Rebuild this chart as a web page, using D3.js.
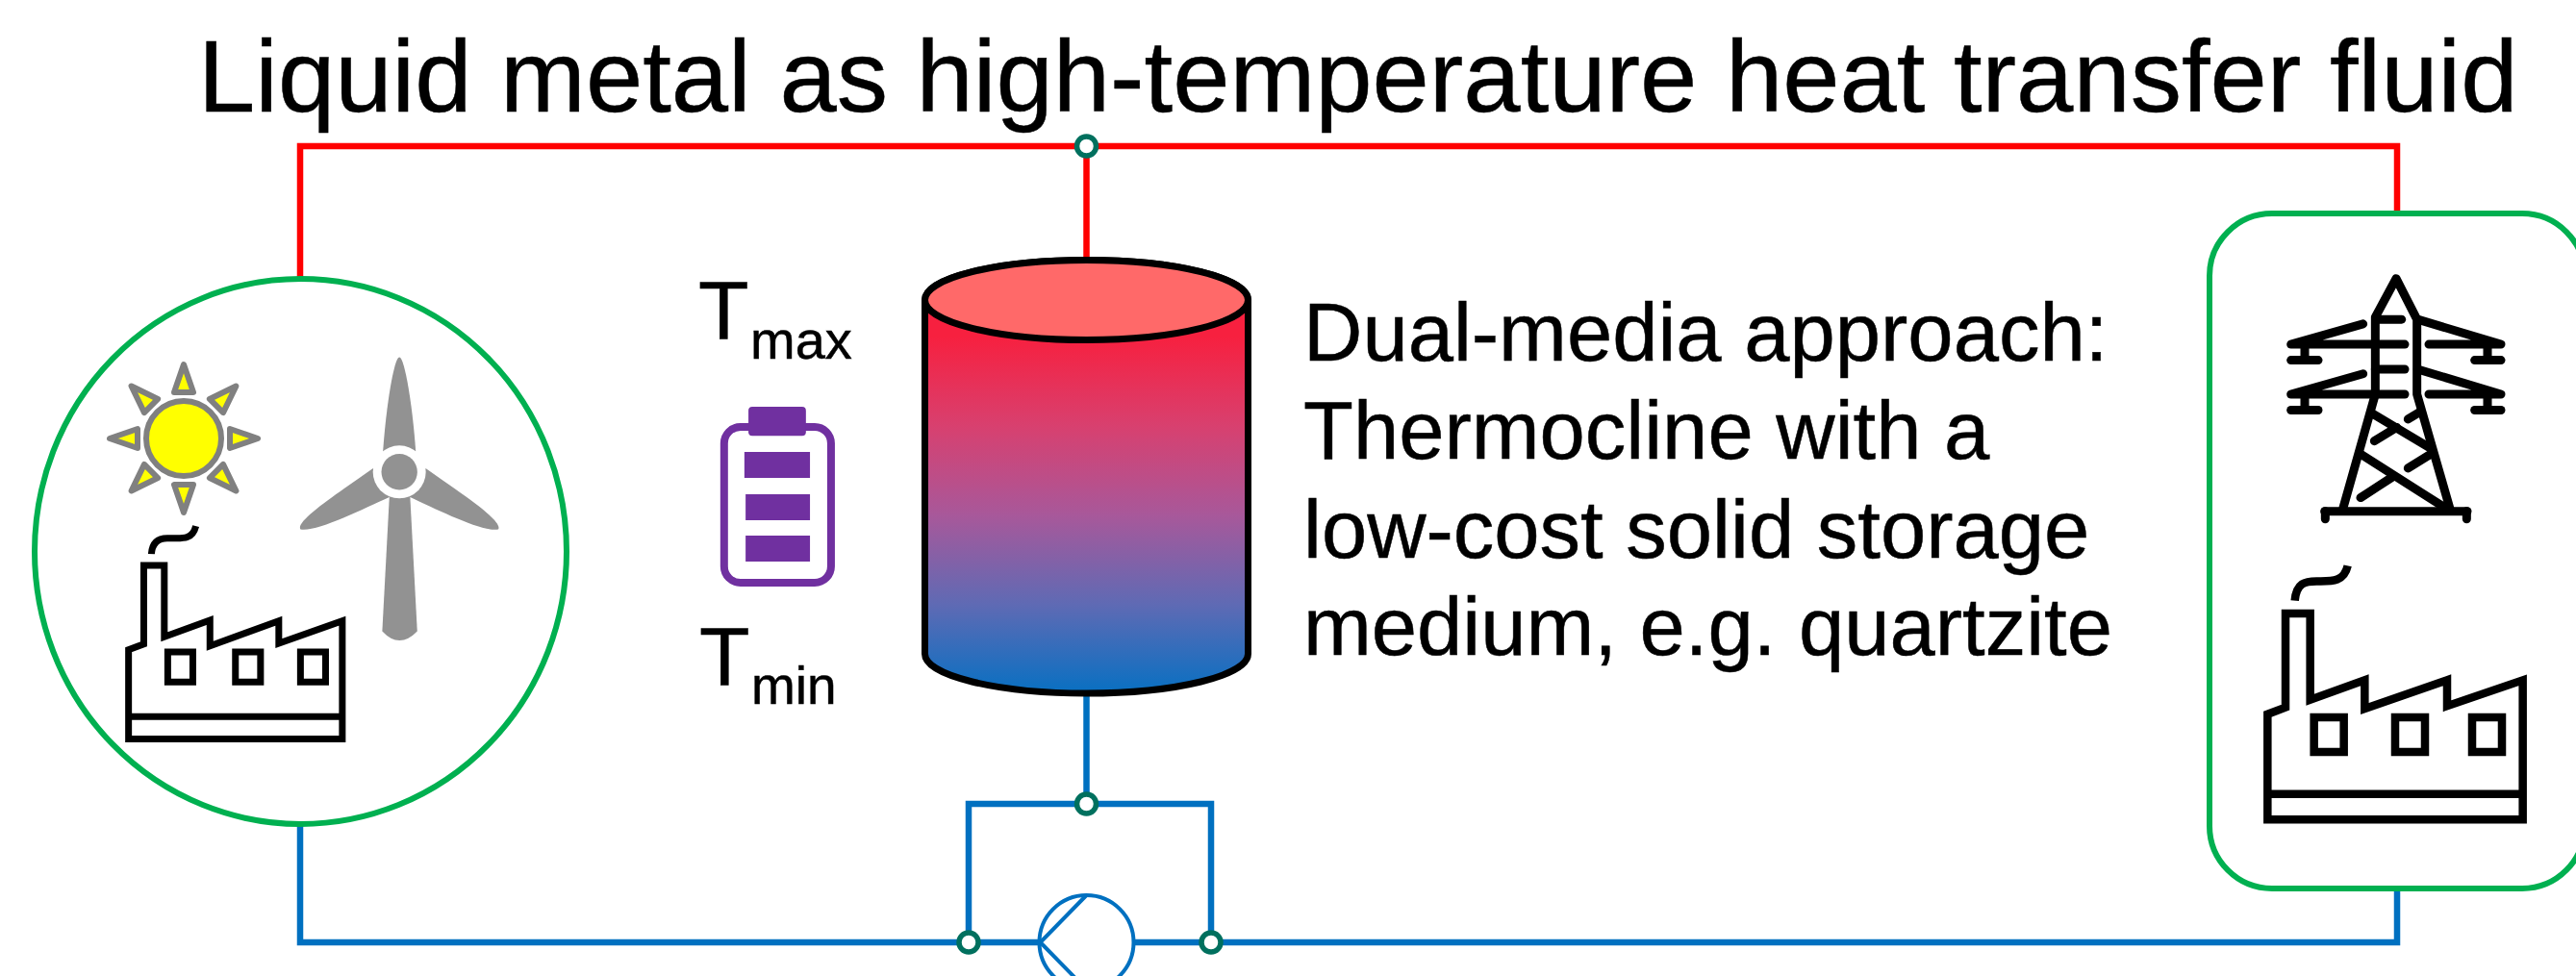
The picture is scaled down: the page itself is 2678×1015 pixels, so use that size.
<!DOCTYPE html>
<html><head><meta charset="utf-8">
<script src="https://cdn.jsdelivr.net/npm/d3@7"></script>
<style>html,body{margin:0;padding:0;background:#fff;overflow:hidden}svg{display:block}text{font-family:"Liberation Sans",Arial,sans-serif;fill:#000;stroke:#000;stroke-width:0.5}</style>
</head><body><svg id="c" width="2678" height="1015"></svg>
<script>
const titleText = "Liquid metal as high-temperature heat transfer fluid";
const noteLines = ["Dual-media approach:", "Thermocline with a", "low-cost solid storage", "medium, e.g. quartzite"];
const tempLabels = [["T","max"],["T","min"]];
const gradientStops = [[0,"#f7203f"],[0.25,"#d8406f"],[0.5,"#a8589a"],[0.75,"#5f6ab4"],[1,"#0870c2"]];

const RED="#ff0000", BLUE="#0070c0", GREEN="#00b050", NODE="#00705e", PURPLE="#7030a0", GREY="#929292", SUNG="#808080", YELLOW="#ffff00";
const svg=d3.select("#c");
const defs=svg.append("defs");
const lg=defs.append("linearGradient").attr("id","tank").attr("gradientUnits","userSpaceOnUse").attr("x1",0).attr("x2",0).attr("y1",350).attr("y2",721);
gradientStops.forEach(s=>lg.append("stop").attr("offset",s[0]).attr("stop-color",s[1]));

function poly(g,pts,stroke,w,opt={}){
  return g.append("path").attr("d",d3.line()(pts)+(opt.close?"Z":"")).attr("fill",opt.fill||"none")
    .attr("stroke",stroke).attr("stroke-width",w).attr("stroke-linecap",opt.cap||"butt").attr("stroke-linejoin",opt.join||"miter");
}

// pipes
const pipes=svg.append("g");
poly(pipes,[[312,290],[312,152],[2492,152],[2492,222]],RED,6.5);
poly(pipes,[[1129.5,152],[1129.5,270]],RED,6.5);
poly(pipes,[[312,857],[312,980],[1081,980]],BLUE,6.5);
poly(pipes,[[1178,980],[2492,980],[2492,924]],BLUE,6.5);
poly(pipes,[[1007,980],[1007,836],[1259,836],[1259,980]],BLUE,6.5);
poly(pipes,[[1129.5,722],[1129.5,836]],BLUE,6.5);
// pump
const pump=svg.append("g");
pump.append("circle").attr("cx",1129.5).attr("cy",980).attr("r",49).attr("fill","#fff").attr("stroke",BLUE).attr("stroke-width",4);
poly(pump,[[1129.5,931],[1081.5,980],[1129.5,1029]],BLUE,4);
// nodes
[[1129.5,152],[1129.5,836],[1007,980],[1259,980]].forEach(p=>
  svg.append("circle").attr("cx",p[0]).attr("cy",p[1]).attr("r",10).attr("fill","#fff").attr("stroke",NODE).attr("stroke-width",5.5));

// left circle
svg.append("ellipse").attr("cx",312.5).attr("cy",573.5).attr("rx",276.5).attr("ry",283.5).attr("fill","#fff").attr("stroke",GREEN).attr("stroke-width",6);
// right box
svg.append("rect").attr("x",2297).attr("y",222).attr("width",390).attr("height",702).attr("rx",65).attr("ry",65).attr("fill","#fff").attr("stroke",GREEN).attr("stroke-width",6);

// sun
const sun=svg.append("g").attr("transform","translate(191,456)");
sun.append("circle").attr("r",39).attr("fill",YELLOW).attr("stroke",SUNG).attr("stroke-width",6);
d3.range(8).forEach(i=>{
  poly(sun,[[0,-77],[10,-48],[-10,-48]],SUNG,6,{close:true,fill:YELLOW,join:"round"}).attr("transform",`rotate(${i*45})`);
});

// zoom-crop coordinate helpers
const lx=d3.scaleLinear().domain([0,1568]).range([0,620]), ly=d3.scaleLinear().domain([0,1568]).range([270,870]);
const rx=d3.scaleLinear().domain([0,1194]).range([2280,2678]), ry=d3.scaleLinear().domain([0,1568]).range([200,940]);
const cx=d3.scaleLinear().domain([0,1568]).range([680,1340]), cy=d3.scaleLinear().domain([0,1500]).range([250,750]);
const L=(x,y)=>[lx(x),ly(y)], R=(x,y)=>[rx(x),ry(y)];
const P=(p)=>p.join(",");

// turbine
const tb=svg.append("g").attr("fill",GREY);
function curveBlade(a,c1,c2,t,c3,c4,b){
  tb.append("path").attr("d",`M${P(L(...a))}C${P(L(...c1))} ${P(L(...c2))} ${P(L(...t))}C${P(L(...c3))} ${P(L(...c4))} ${P(L(...b))}L${P(L(1050,577))}Z`);
}
curveBlade([1007,520],[1015,400],[1036,265],[1050,265],[1064,265],[1085,400],[1093,520]);
curveBlade([980,568],[895,630],[775,710],[790,733],[830,742],[950,680],[1025,645]);
curveBlade([1120,568],[1205,630],[1325,710],[1310,733],[1270,742],[1150,680],[1077,645]);
tb.append("path").attr("d",`M${P(L(1025,620))}L${P(L(1005,1010))}Q${P(L(1050,1060))} ${P(L(1097,1010))}L${P(L(1077,620))}Z`);
svg.append("ellipse").attr("cx",lx(1050)).attr("cy",ly(577)).attr("rx",27.5).attr("ry",27.5).attr("fill","#fff");
svg.append("circle").attr("cx",lx(1050)).attr("cy",ly(577)).attr("r",18.7).attr("fill",GREY);

// left factory
const fl=svg.append("g");
poly(fl,[[338,1303],[338,1060],[378,1045],[378,831],[432,831],[432,1025],[552,980],[552,1050],[733,982],[733,1043],[900,982],[900,1303]].map(p=>L(...p)),"#000",7,{close:true});
poly(fl,[[338,1242],[900,1242]].map(p=>L(...p)),"#000",7);
[441,619,790].forEach(x=>poly(fl,[[x,1066],[x+66,1066],[x+66,1148],[x,1148]].map(p=>L(...p)),"#000",7,{close:true}));
fl.append("path").attr("d",`M${P(L(398,800))}C${P(L(400,770))} ${P(L(415,757))} ${P(L(440,757))}C${P(L(475,757))} ${P(L(505,765))} ${P(L(515,724))}`).attr("fill","none").attr("stroke","#000").attr("stroke-width",7);

// right factory
const fr=svg.append("g");
poly(fr,[[232,1382],[232,1150],[288,1135],[288,928],[365,928],[365,1118],[535,1075],[535,1138],[792,1075],[792,1132],[1028,1075],[1028,1382]].map(p=>R(...p)),"#000",8.5,{close:true});
poly(fr,[[232,1326],[1028,1326]].map(p=>R(...p)),"#000",8.5);
[377,630,870].forEach(x=>poly(fr,[[x,1157],[x+93,1157],[x+93,1233],[x,1233]].map(p=>R(...p)),"#000",8.5,{close:true}));
fr.append("path").attr("d",`M${P(R(317,900))}C${P(R(322,860))} ${P(R(350,857))} ${P(R(385,857))}C${P(R(430,857))} ${P(R(470,860))} ${P(R(482,823))}`).attr("fill","none").attr("stroke","#000").attr("stroke-width",8.5);

// pylon
const py=svg.append("g");
const segs=[
 [[468,695],[568,445],[568,275],[633,190],[698,280],[698,445],[800,695]],
 [[410,703],[855,703]],[[412,703],[412,720]],[[853,703],[853,720]],
 [[580,280],[650,280]],[[568,335],[660,335]],[[568,390],[660,390]],[[568,445],[660,445]],
 [[530,290],[305,335],[568,335]],[[305,370],[390,370]],[[348,335],[348,370]],
 [[530,400],[305,445],[568,445]],[[305,480],[390,480]],[[348,445],[348,480]],
 [[735,335],[960,335],[700,280]],[[878,370],[960,370]],[[918,335],[918,370]],
 [[735,445],[960,445],[700,390]],[[878,480],[960,480]],[[918,445],[918,480]],
 [[558,487],[735,562]],[[525,578],[785,695]],
 [[670,500],[705,485]],[[565,548],[635,518]],[[670,608],[745,575]],[[522,673],[620,628]]
];
segs.forEach(s=>poly(py,s.map(p=>R(...p)),"#000",9,{cap:"round",join:"round"}));

// battery
const bt=svg.append("g");
bt.append("rect").attr("x",cx(173)).attr("y",cy(582)).attr("width",cx(437)-cx(173)).attr("height",cy(1068)-cy(582)).attr("rx",17).attr("ry",17).attr("fill","#fff").attr("stroke",PURPLE).attr("stroke-width",8);
bt.append("rect").attr("x",cx(233)).attr("y",cy(519)).attr("width",cx(375)-cx(233)).attr("height",cy(610)-cy(519)).attr("rx",4).attr("fill",PURPLE);
[[223,660],[226,792],[226,921]].forEach(b=>bt.append("rect").attr("x",cx(b[0])).attr("y",cy(b[1])).attr("width",cx(385)-cx(b[0])).attr("height",cy(81)-cy(0)).attr("fill",PURPLE));

// tank
const tank=svg.append("g");
tank.append("path").attr("d","M961.5,312 L961.5,680 A168,41 0 0 0 1297.5,680 L1297.5,312 A168,41.5 0 0 0 961.5,312Z").attr("fill","url(#tank)").attr("stroke","#000").attr("stroke-width",7);
tank.append("ellipse").attr("cx",1129.5).attr("cy",312).attr("rx",168).attr("ry",41.5).attr("fill","#ff6969").attr("stroke","#000").attr("stroke-width",7);

// text
svg.append("text").attr("x",206).attr("y",116).attr("font-size",106.6).text(titleText);
svg.selectAll(".note").data(noteLines).join("text").attr("class","note").attr("x",1355).attr("y",(d,i)=>[375,477,580,681][i]).attr("font-size",85).text(d=>d);
[[726,352,780,373],[727,712,781,732]].forEach((p,i)=>{
  svg.append("text").attr("x",p[0]).attr("y",p[1]).attr("font-size",86).text(tempLabels[i][0]);
  svg.append("text").attr("x",p[2]).attr("y",p[3]).attr("font-size",i?55:56).text(tempLabels[i][1]);
});
</script></body></html>
